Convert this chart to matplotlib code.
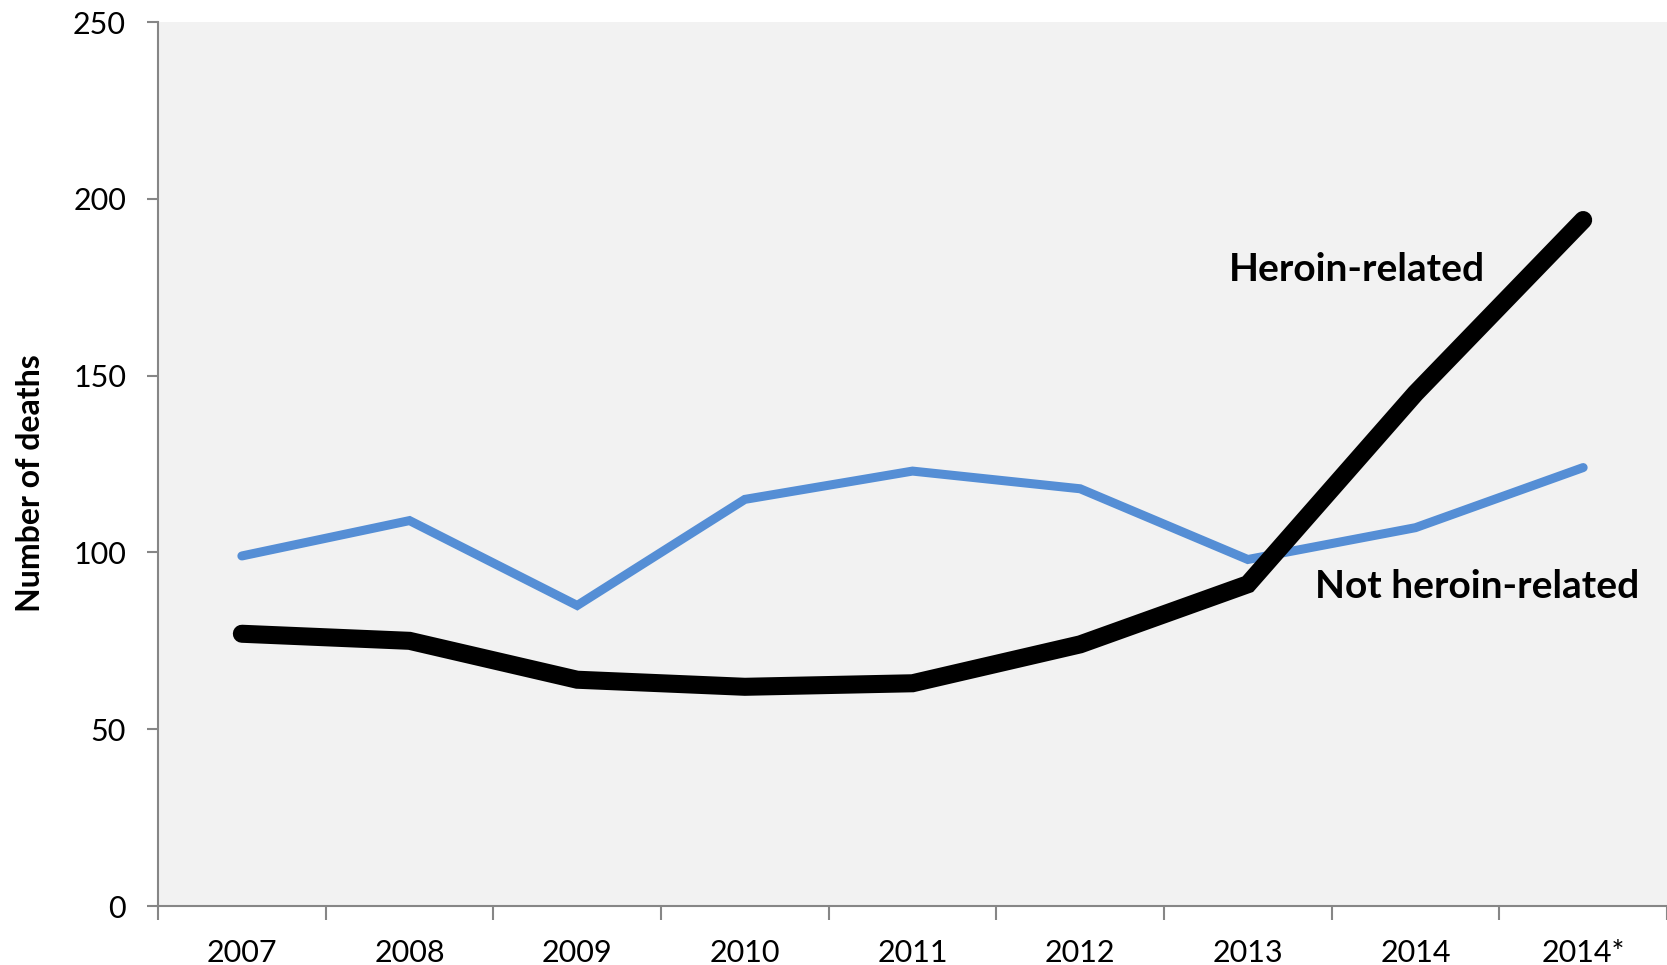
import matplotlib.pyplot as plt
import numpy as np

# deaths per year
years = ['2007', '2008', '2009', '2010', '2011', '2012', '2013', '2014', '2014*']
heroin = [77, 75, 64, 62, 63, 74, 91, 145, 194]
notHeroin = [99, 109, 85, 115, 123, 118, 98, 107, 124]
yTicks = [0, 50, 100, 150, 200, 250]

plt.rcParams['font.family'] = ['Lato', 'DejaVu Sans']

fig = plt.figure(figsize=(16.67, 9.65), dpi=100)
ax = fig.add_axes([0.0948, 0.0611, 0.9052, 0.9161])
ax.set_facecolor('#f2f2f2')

xPos = np.arange(len(years))
ax.plot(xPos, notHeroin, color='#558ed5', linewidth=6.5, solid_capstyle='round', solid_joinstyle='miter', zorder=3)
ax.plot(xPos, heroin, color='black', linewidth=13, solid_capstyle='round', solid_joinstyle='miter', zorder=4)

ax.text(6.65, 180, 'Heroin-related', fontsize=28, fontweight='bold', ha='center', va='center')
ax.text(7.37, 90.5, 'Not heroin-related', fontsize=28, fontweight='bold', ha='center', va='center')

ax.set_xlim(-0.5, len(years) - 0.5)
ax.set_ylim(0, 250)
ax.set_yticks(yTicks)
ax.set_xticks(xPos)
ax.set_xticklabels(years)
ax.set_xticks(np.arange(-0.5, len(years)), minor=True)

for side in ['top', 'right']:
    ax.spines[side].set_visible(False)
for side in ['left', 'bottom']:
    ax.spines[side].set_color('#868686')
    ax.spines[side].set_linewidth(1.5)

ax.tick_params(axis='x', which='major', length=0, pad=24, labelsize=22)
ax.tick_params(axis='x', which='minor', length=10, width=1.5, color='#868686', direction='out')
ax.tick_params(axis='y', length=8, width=1.5, color='#868686', pad=15, labelsize=22)

ax.set_ylabel('Number of deaths', fontsize=23, fontweight='bold')
ax.yaxis.set_label_coords(-0.075, 0.478)

fig.savefig('out.png', dpi=100)
